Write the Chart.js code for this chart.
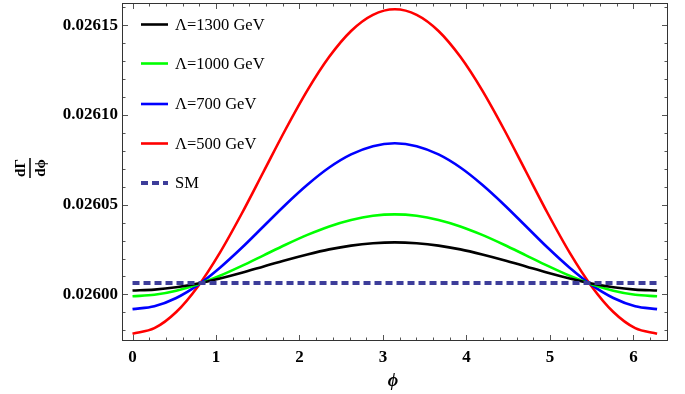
<!DOCTYPE html>
<html><head><meta charset="utf-8">
<script src="https://cdn.jsdelivr.net/npm/chart.js@4.4.0/dist/chart.umd.min.js"></script>
<style>html,body{margin:0;padding:0;background:#fff;} canvas{display:block;}</style>
</head><body>
<canvas id="c" width="685" height="394"></canvas>
<script>
// ---- data ----
const phi = [0, 0.2618, 0.5236, 0.7854, 1.0472, 1.3090, 1.5708, 1.8326, 2.0944, 2.3562, 2.6180, 2.8798, 3.1416,
             3.4034, 3.6652, 3.9270, 4.1888, 4.4506, 4.7124, 4.9742, 5.2360, 5.4978, 5.7596, 6.0214, 6.2832];
const seriesLabels = ['\u039B=1300 GeV', '\u039B=1000 GeV', '\u039B=700 GeV', '\u039B=500 GeV', 'SM'];
const lambda1300 = [0.0260022, 0.0260027, 0.0260040, 0.0260061, 0.0260089, 0.0260121, 0.0260156, 0.0260191, 0.0260223, 0.0260251, 0.0260272, 0.0260285, 0.0260290,
                    0.0260285, 0.0260272, 0.0260251, 0.0260223, 0.0260191, 0.0260156, 0.0260121, 0.0260089, 0.0260061, 0.0260040, 0.0260027, 0.0260022];
const lambda1000 = [0.0259990, 0.0259998, 0.0260021, 0.0260057, 0.0260104, 0.0260159, 0.0260218, 0.0260277, 0.0260332, 0.0260379, 0.0260415, 0.0260438, 0.0260446,
                    0.0260438, 0.0260415, 0.0260379, 0.0260332, 0.0260277, 0.0260218, 0.0260159, 0.0260104, 0.0260057, 0.0260021, 0.0259998, 0.0259990];
const lambda700 = [0.0259918, 0.0259934, 0.0259980, 0.0260053, 0.0260149, 0.0260260, 0.0260380, 0.0260500, 0.0260611, 0.0260707, 0.0260780, 0.0260826, 0.0260842,
                   0.0260826, 0.0260780, 0.0260707, 0.0260611, 0.0260500, 0.0260380, 0.0260260, 0.0260149, 0.0260053, 0.0259980, 0.0259934, 0.0259918];
const lambda500 = [0.0259781, 0.0259812, 0.0259902, 0.0260046, 0.0260233, 0.0260451, 0.0260685, 0.0260919, 0.0261137, 0.0261324, 0.0261468, 0.0261558, 0.0261589,
                   0.0261558, 0.0261468, 0.0261324, 0.0261137, 0.0260919, 0.0260685, 0.0260451, 0.0260233, 0.0260046, 0.0259902, 0.0259812, 0.0259781];
const smPhi = [0, 6.2832];
const smValues = [0.0260063, 0.0260063];
const xTicks = [0, 1, 2, 3, 4, 5, 6];
const yTicks = [0.02600, 0.02605, 0.02610, 0.02615];
const yTickLabels = ['0.02600', '0.02605', '0.02610', '0.02615'];

const pts = (xs, ys) => xs.map((v, i) => ({x: v, y: ys[i]}));
const colors = ['#000000', '#00ff00', '#0000ff', '#ff0000', '#3d3d9a'];
const serif = '"Liberation Serif", "DejaVu Serif", serif';

const mkSet = (i, data) => ({
  label: seriesLabels[i], data, borderColor: colors[i], borderWidth: 2.6,
  pointRadius: 0, fill: false, cubicInterpolationMode: 'monotone'
});

const datasets = [
  mkSet(4, pts(smPhi, smValues)),
  mkSet(0, pts(phi, lambda1300)),
  mkSet(1, pts(phi, lambda1000)),
  mkSet(2, pts(phi, lambda700)),
  mkSet(3, pts(phi, lambda500)),
];
datasets[0].borderDash = [7, 4];
datasets[0].borderWidth = 4;
datasets[0].cubicInterpolationMode = 'default';

const framePlugin = {
  id: 'frame',
  afterDraw(chart) {
    const {ctx, chartArea: a, scales: {x, y}} = chart;
    ctx.save();
    ctx.strokeStyle = '#555';
    ctx.lineWidth = 1;
    ctx.beginPath();
    for (let k = 0; k <= 32; k++) {
      const v = k * 0.2;
      const px = Math.round(x.getPixelForValue(v)) + 0.5;
      const L = (k % 5 === 0) ? 6 : 3.5;
      ctx.moveTo(px, a.bottom); ctx.lineTo(px, a.bottom - L);
      ctx.moveTo(px, a.top); ctx.lineTo(px, a.top + L);
    }
    for (let k = 0; k <= 18; k++) {
      const v = 0.02598 + k * 0.00001;
      const py = Math.round(y.getPixelForValue(v)) + 0.5;
      const L = ((k - 2) % 5 === 0) ? 6 : 3.5;
      ctx.moveTo(a.left, py); ctx.lineTo(a.left + L, py);
      ctx.moveTo(a.right, py); ctx.lineTo(a.right - L, py);
    }
    ctx.stroke();
    ctx.strokeStyle = '#333';
    ctx.strokeRect(Math.round(a.left) + 0.5, Math.round(a.top) + 0.5, Math.round(a.width) - 1, Math.round(a.height) - 1);

    // legend
    const rows = [1, 2, 3, 4, 0];
    const rowY = [24.5, 63.5, 104, 143.5, 183];
    ctx.font = '16.5px ' + serif;
    ctx.textBaseline = 'middle';
    ctx.textAlign = 'left';
    rows.forEach((di, r) => {
      const ds = chart.data.datasets[di];
      ctx.beginPath();
      ctx.strokeStyle = ds.borderColor;
      ctx.lineWidth = ds.borderWidth;
      ctx.setLineDash(ds.borderDash || []);
      ctx.moveTo(141, rowY[r]); ctx.lineTo(168, rowY[r]);
      ctx.stroke();
      ctx.setLineDash([]);
      ctx.fillStyle = '#000';
      ctx.fillText(ds.label, 175, rowY[r] + 1);
    });

    // x title
    ctx.fillStyle = '#000';
    ctx.font = 'italic bold 18px ' + serif;
    ctx.textAlign = 'center';
    ctx.textBaseline = 'middle';
    ctx.fillText('\u03D5', (a.left + a.right) / 2 - 2, 381);

    // y title (fraction, rotated)
    ctx.save();
    ctx.translate(30, 168);
    ctx.rotate(-Math.PI / 2);
    ctx.font = 'bold 15px ' + serif;
    ctx.textAlign = 'center';
    ctx.textBaseline = 'alphabetic';
    ctx.fillText('d\u0393', 0, -5);
    ctx.textBaseline = 'top';
    ctx.fillText('d\u03D5', 0, 4);
    ctx.beginPath();
    ctx.lineWidth = 1.5;
    ctx.strokeStyle = '#000';
    ctx.moveTo(-10, 0); ctx.lineTo(10, 0);
    ctx.stroke();
    ctx.restore();
    ctx.restore();
  }
};

new Chart(document.getElementById('c'), {
  type: 'line',
  data: {datasets},
  options: {
    responsive: false,
    animation: false,
    devicePixelRatio: 1,
    layout: {padding: {top: 3, right: 17, left: 0, bottom: 0}},
    plugins: {legend: {display: false}, tooltip: {enabled: false}},
    scales: {
      x: {
        type: 'linear', min: -0.126, max: 6.414,
        grid: {display: false, drawTicks: false}, border: {display: false},
        afterBuildTicks: s => { s.ticks = xTicks.map(v => ({value: v})); },
        afterFit: s => { s.height = 53; s.paddingLeft = 0; s.paddingRight = 0; },
        ticks: {padding: 6, color: '#000', font: {family: serif, weight: 'bold', size: 17},
                callback: v => String(v), maxRotation: 0, autoSkip: false}
      },
      y: {
        type: 'linear', min: 0.02597405, max: 0.02616239,
        grid: {display: false, drawTicks: false}, border: {display: false},
        afterBuildTicks: s => { s.ticks = yTicks.map(v => ({value: v})); },
        afterFit: s => { s.width = 122; s.paddingTop = 0; s.paddingBottom = 0; },
        ticks: {padding: 4, color: '#000', font: {family: serif, weight: 'bold', size: 17},
                callback: v => yTickLabels[yTicks.findIndex(t => Math.abs(t - v) < 1e-9)] ?? '', autoSkip: false}
      }
    }
  },
  plugins: [framePlugin]
});
</script>
</body></html>
